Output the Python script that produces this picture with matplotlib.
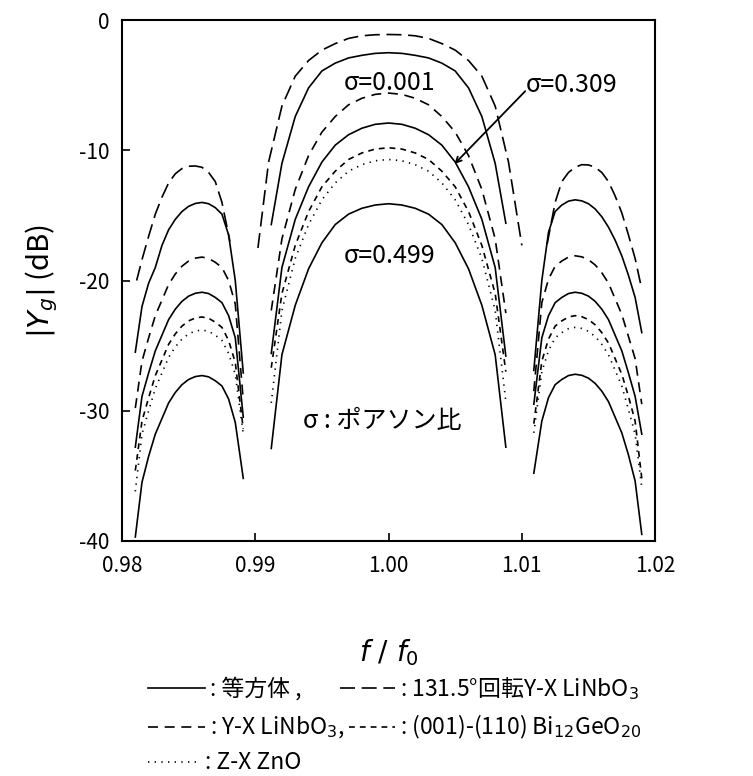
import matplotlib
matplotlib.use("Agg")
import matplotlib.pyplot as plt
from matplotlib.lines import Line2D

plt.rcParams['font.family'] = ['Noto Sans CJK JP', 'DejaVu Sans']
plt.rcParams['mathtext.fontset'] = 'dejavusans'

# frequency grids (f/f0) for the three lobes
x_left = [0.9810, 0.9815, 0.9820, 0.9825, 0.9830, 0.9835, 0.9840, 0.9845, 0.9850,
          0.9855, 0.9860, 0.9865, 0.9870, 0.9875, 0.9880, 0.9885, 0.9891]
x_mid = [0.9912, 0.9920, 0.9930, 0.9940, 0.9950, 0.9960, 0.9970, 0.9980, 0.9990, 1.0000,
         1.0010, 1.0020, 1.0030, 1.0040, 1.0050, 1.0060, 1.0070, 1.0080, 1.0088]
x_right = [1.0109, 1.0115, 1.0120, 1.0125, 1.0130, 1.0135, 1.0140, 1.0145, 1.0150,
           1.0155, 1.0160, 1.0165, 1.0170, 1.0175, 1.0180, 1.0185, 1.0190]

# 131.5deg rotated Y-X LiNbO3 has its own grids
x_rot_left = [0.9811, 0.9815, 0.9820, 0.9825, 0.9830, 0.9835, 0.9840, 0.9845, 0.9850,
              0.9855, 0.9860, 0.9865, 0.9870, 0.9875, 0.9881]
x_rot_mid = [0.9902, 0.9910, 0.9920, 0.9930, 0.9940, 0.9950, 0.9960, 0.9970, 0.9980, 0.9990,
             1.0000, 1.0010, 1.0020, 1.0030, 1.0040, 1.0050, 1.0060, 1.0070, 1.0080, 1.0090, 1.0100]
x_rot_right = [1.0119, 1.0125, 1.0130, 1.0135, 1.0140, 1.0145, 1.0150, 1.0155, 1.0160,
               1.0165, 1.0170, 1.0175, 1.0180, 1.0185, 1.0189]

# |Yg| in dB
rot_left = [-20.0, -18.4, -16.6, -14.9, -13.6, -12.5, -11.8, -11.4, -11.22, -11.2, -11.3,
            -11.7, -12.4, -14.0, -17.0]
rot_mid = [-17.5, -10.9, -6.6, -4.3, -3.1, -2.3, -1.8, -1.4, -1.2, -1.12, -1.1,
           -1.12, -1.2, -1.4, -1.8, -2.3, -3.1, -4.3, -6.6, -10.9, -17.3]
rot_right = [-17.2, -14.0, -12.4, -11.7, -11.3, -11.1, -11.12, -11.3, -11.7, -12.4, -13.5,
             -14.8, -16.5, -18.3, -20.2]

iso001_left = [-25.5, -22.0, -20.2, -19.0, -17.3, -16.1, -15.3, -14.7, -14.3, -14.08, -14.0,
               -14.1, -14.4, -14.9, -16.5, -20.0, -27.1]
iso001_mid = [-15.7, -11.0, -7.4, -5.2, -3.9, -3.3, -2.9, -2.7, -2.55, -2.5,
              -2.55, -2.7, -2.9, -3.3, -3.9, -5.2, -7.4, -11.0, -15.6]
iso001_right = [-26.9, -20.0, -16.3, -14.7, -14.2, -13.9, -13.8, -13.88, -14.1, -14.5, -15.1,
                -15.9, -16.9, -18.1, -19.6, -21.3, -24.0]

yx_left = [-29.8, -26.2, -24.4, -22.7, -21.5, -20.3, -19.5, -18.9, -18.5, -18.28, -18.2,
           -18.3, -18.6, -19.0, -20.0, -21.8, -29.2]
yx_mid = [-22.3, -16.8, -13.0, -10.4, -8.6, -7.4, -6.5, -6.0, -5.7, -5.6,
          -5.7, -6.0, -6.5, -7.4, -8.6, -10.4, -13.0, -16.8, -22.5]
yx_right = [-28.5, -21.7, -19.9, -18.9, -18.5, -18.2, -18.1, -18.18, -18.4, -18.8, -19.4,
            -20.2, -21.4, -22.6, -24.3, -26.0, -29.5]

iso309_left = [-32.8, -28.9, -27.1, -25.4, -24.2, -23.0, -22.2, -21.6, -21.2, -20.98, -20.9,
               -21.0, -21.3, -21.7, -22.7, -24.4, -30.5]
iso309_mid = [-25.6, -19.0, -15.3, -12.8, -10.9, -9.6, -8.8, -8.3, -8.0, -7.9,
              -8.0, -8.3, -8.8, -9.6, -10.9, -12.8, -15.3, -19.0, -25.8]
iso309_right = [-29.5, -24.4, -22.7, -21.7, -21.3, -21.0, -20.9, -20.98, -21.2, -21.6, -22.2,
                -23.0, -24.2, -25.4, -27.1, -28.9, -31.8]

bgo_left = [-34.6, -30.8, -29.0, -27.3, -26.1, -24.9, -24.1, -23.5, -23.1, -22.88, -22.8,
            -22.9, -23.2, -23.6, -24.6, -26.3, -31.4]
bgo_mid = [-26.7, -21.0, -17.3, -14.7, -12.8, -11.6, -10.7, -10.2, -9.9, -9.8,
           -9.9, -10.2, -10.7, -11.6, -12.8, -14.7, -17.3, -21.0, -27.0]
bgo_right = [-31.0, -26.2, -24.5, -23.5, -23.1, -22.8, -22.7, -22.78, -23.0, -23.4, -24.0,
             -24.8, -26.0, -27.2, -28.9, -30.8, -35.2]

zno_left = [-36.2, -31.8, -30.0, -28.3, -27.1, -25.9, -25.1, -24.5, -24.1, -23.88, -23.8,
            -23.9, -24.2, -24.6, -25.6, -27.2, -31.8]
zno_mid = [-29.4, -22.3, -18.3, -15.7, -13.8, -12.5, -11.6, -11.1, -10.8, -10.7,
           -10.8, -11.1, -11.6, -12.5, -13.8, -15.7, -18.3, -22.3, -29.3]
zno_right = [-31.7, -27.0, -25.4, -24.4, -24.0, -23.7, -23.6, -23.68, -23.9, -24.3, -24.9,
             -25.7, -26.9, -28.1, -29.9, -31.8, -35.9]

iso499_left = [-39.7, -35.5, -33.5, -31.8, -30.6, -29.4, -28.6, -28.0, -27.6, -27.38, -27.3,
               -27.4, -27.7, -28.1, -29.1, -30.9, -35.2]
iso499_mid = [-32.9, -25.7, -21.9, -19.1, -17.1, -15.7, -14.9, -14.45, -14.2, -14.1,
              -14.2, -14.45, -14.9, -15.7, -17.1, -19.1, -21.9, -25.7, -32.8]
iso499_right = [-34.8, -30.8, -29.0, -28.0, -27.6, -27.3, -27.2, -27.28, -27.5, -27.9, -28.5,
                -29.3, -30.5, -31.7, -33.4, -35.4, -39.5]

x_ticks = [0.98, 0.99, 1.00, 1.01, 1.02]
x_ticklabels = ['0.98', '0.99', '1.00', '1.01', '1.02']
y_ticks = [-40, -30, -20, -10, 0]
y_ticklabels = ['-40', '-30', '-20', '-10', '0']

lw = 1.2
style_iso = dict(color='black', lw=lw, linestyle='-')
style_rot = dict(color='black', lw=lw, linestyle=(0, (9, 4)))
style_yx = dict(color='black', lw=lw, linestyle=(0, (6, 4)))
style_bgo = dict(color='black', lw=lw, linestyle=(0, (3.5, 3)))
style_zno = dict(color='black', lw=lw, linestyle=(0, (0.8, 3.2)))

fig = plt.figure(figsize=(7.53, 7.76), dpi=100)
ax = fig.add_axes([0.162, 0.303, 0.708, 0.671])

ax.plot(x_rot_left, rot_left, **style_rot)
ax.plot(x_rot_mid, rot_mid, **style_rot)
ax.plot(x_rot_right, rot_right, **style_rot)

for lobe_x, ys, st in [
        (x_left, iso001_left, style_iso), (x_mid, iso001_mid, style_iso), (x_right, iso001_right, style_iso),
        (x_left, yx_left, style_yx), (x_mid, yx_mid, style_yx), (x_right, yx_right, style_yx),
        (x_left, iso309_left, style_iso), (x_mid, iso309_mid, style_iso), (x_right, iso309_right, style_iso),
        (x_left, bgo_left, style_bgo), (x_mid, bgo_mid, style_bgo), (x_right, bgo_right, style_bgo),
        (x_left, zno_left, style_zno), (x_mid, zno_mid, style_zno), (x_right, zno_right, style_zno),
        (x_left, iso499_left, style_iso), (x_mid, iso499_mid, style_iso), (x_right, iso499_right, style_iso)]:
    ax.plot(lobe_x, ys, **st)

ax.set_xlim(0.98, 1.02)
ax.set_ylim(-40, 0)
ax.set_xticks(x_ticks)
ax.set_xticklabels(x_ticklabels)
ax.set_yticks(y_ticks)
ax.set_yticklabels(y_ticklabels)
ax.tick_params(direction='in', length=6, width=1.2, labelsize=15)
ax.tick_params(axis='x', pad=10)
ax.tick_params(axis='y', pad=9)
for sp in ax.spines.values():
    sp.set_linewidth(1.5)

ax.set_xlabel(r'$f\ /\ f_0$', fontsize=20, labelpad=44)
ax.set_ylabel(r'$|Y_g|$ (dB)', fontsize=21, labelpad=14)

ax.text(1.0001, -4.8, 'σ=0.001', fontsize=18, ha='center', va='center')
ax.text(1.0103, -5.0, 'σ=0.309', fontsize=18, ha='left', va='center')
ax.text(1.0001, -18.1, 'σ=0.499', fontsize=18, ha='center', va='center')
ax.text(0.9995, -30.8, 'σ : ポアソン比', fontsize=18, ha='center', va='center')
ax.annotate('', xy=(1.0048, -11.2), xytext=(1.0104, -5.3),
            arrowprops=dict(arrowstyle='->', color='black', lw=1.3))

# key for the line styles, under the axes
rows = [0.113, 0.063, 0.018]
fs = 16.5
key_font = 'Noto Sans CJK JP'
fig.add_artist(Line2D([0.197, 0.272], [rows[0]] * 2, transform=fig.transFigure, **style_iso))
fig.text(0.279, rows[0], ': 等方体 ,', fontsize=fs, va='center', family=key_font)
fig.add_artist(Line2D([0.452, 0.525], [rows[0]] * 2, transform=fig.transFigure, **style_rot))
fig.text(0.531, rows[0], r': 131.5°回転Y-X LiNbO$_3$', fontsize=fs, va='center', family=key_font)
fig.add_artist(Line2D([0.197, 0.272], [rows[1]] * 2, transform=fig.transFigure, **style_yx))
fig.text(0.279, rows[1], r': Y-X LiNbO$_3$,', fontsize=fs, va='center', family=key_font)
fig.add_artist(Line2D([0.463, 0.525], [rows[1]] * 2, transform=fig.transFigure, **style_bgo))
fig.text(0.531, rows[1], r': (001)-(110) Bi$_{12}$GeO$_{20}$', fontsize=fs, va='center', family=key_font)
fig.add_artist(Line2D([0.197, 0.265], [rows[2]] * 2, transform=fig.transFigure, **style_zno))
fig.text(0.272, rows[2], ': Z-X ZnO', fontsize=fs, va='center', family=key_font)

fig.savefig('out.png', dpi=100)
